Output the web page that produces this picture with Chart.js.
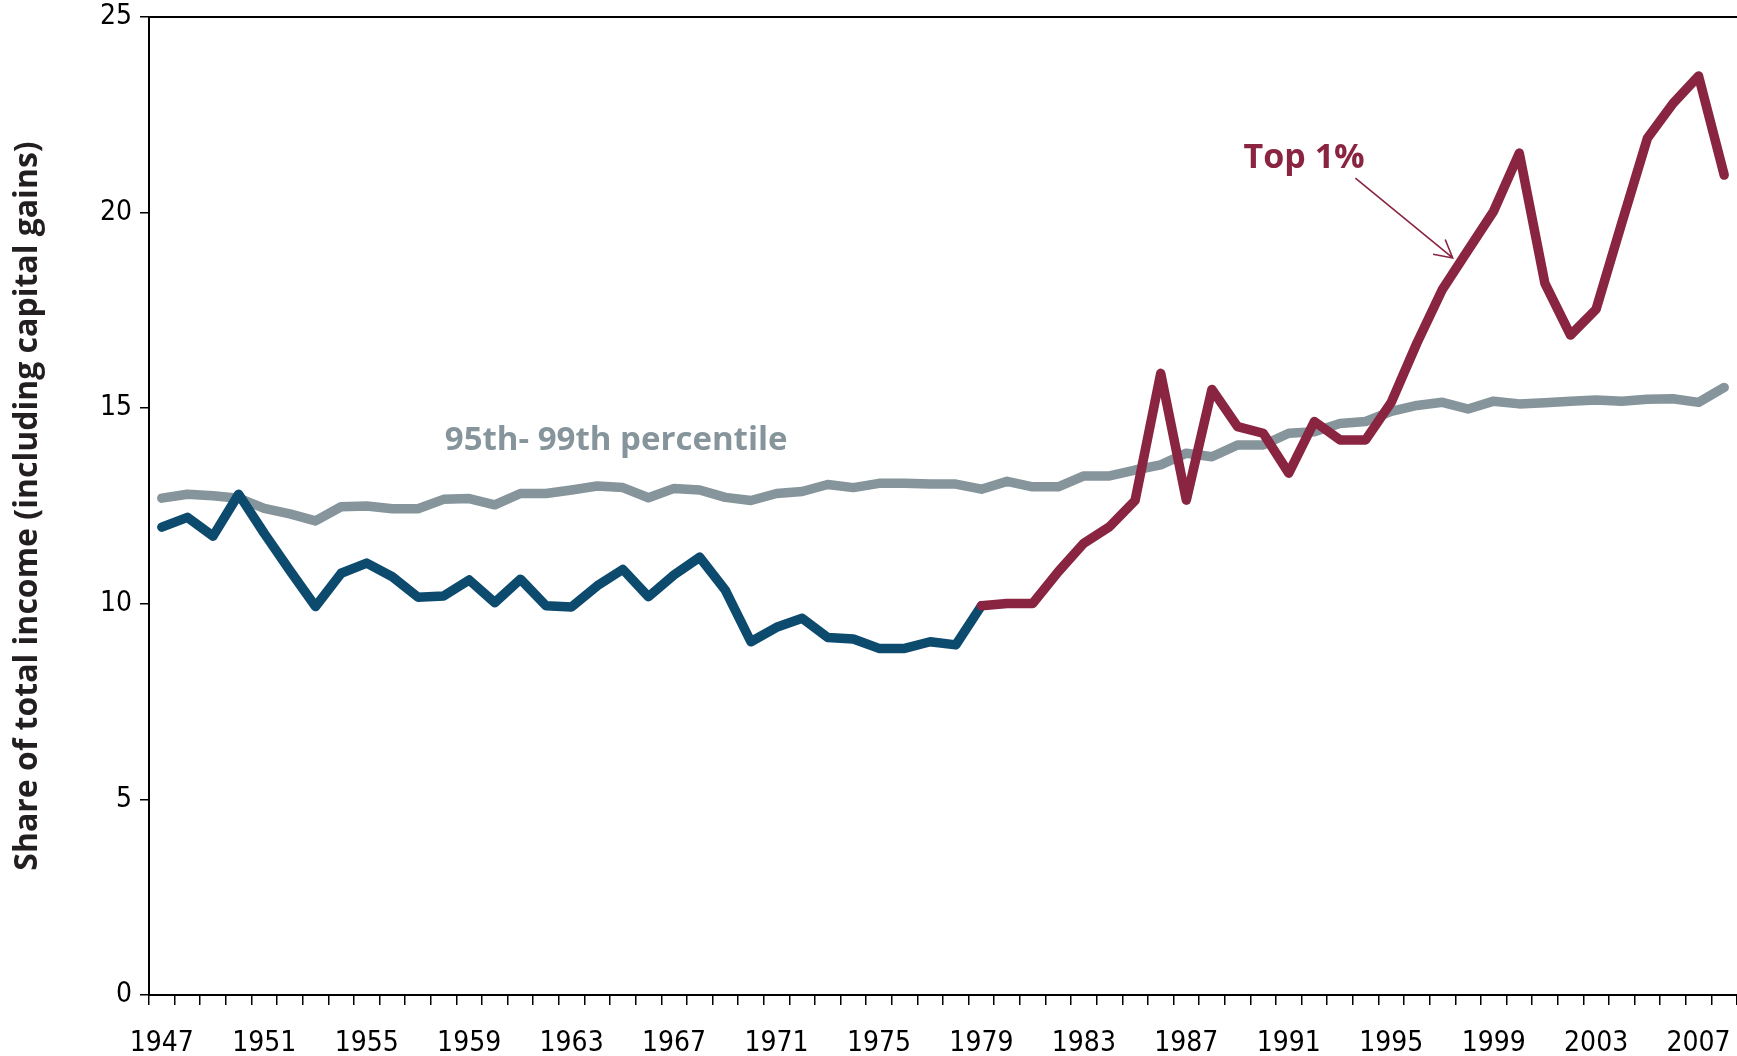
<!DOCTYPE html>
<html>
<head>
<meta charset="utf-8">
<title>Share of total income</title>
<script src="https://cdn.jsdelivr.net/npm/chart.js@4.4.0/dist/chart.umd.min.js"></script>
<style>
  body { margin: 0; background: #fff; }
  #wrap { width: 1737px; height: 1056px; }
</style>
</head>
<body>
<div id="wrap"><canvas id="incomeChart" width="1737" height="1056"></canvas></div>
<script>
const years = [
  '1947', '1948', '1949', '1950', '1951', '1952', '1953', '1954', '1955', '1956',
  '1957', '1958', '1959', '1960', '1961', '1962', '1963', '1964', '1965', '1966',
  '1967', '1968', '1969', '1970', '1971', '1972', '1973', '1974', '1975', '1976',
  '1977', '1978', '1979', '1980', '1981', '1982', '1983', '1984', '1985', '1986',
  '1987', '1988', '1989', '1990', '1991', '1992', '1993', '1994', '1995', '1996',
  '1997', '1998', '1999', '2000', '2001', '2002', '2003', '2004', '2005', '2006',
  '2007', '2008'
];

// 95th-99th percentile share
const share95to99 = [
  12.70, 12.80, 12.76, 12.70, 12.44, 12.30, 12.12, 12.48, 12.50, 12.43,
  12.43, 12.67, 12.69, 12.53, 12.82, 12.82, 12.91, 13.01, 12.97, 12.71,
  12.95, 12.91, 12.72, 12.64, 12.82, 12.87, 13.05, 12.97, 13.08, 13.08,
  13.06, 13.06, 12.93, 13.13, 12.99, 12.99, 13.27, 13.27, 13.42, 13.55,
  13.85, 13.76, 14.06, 14.06, 14.36, 14.40, 14.61, 14.66, 14.92, 15.07,
  15.15, 14.98, 15.18, 15.11, 15.14, 15.18, 15.21, 15.18, 15.23, 15.24,
  15.15, 15.53
];

// top 1% share, 1947-1979 (blue part)
const top1Early = [
  11.96, 12.21, 11.73, 12.80, 11.80, 10.85, 9.93, 10.78, 11.04, 10.69,
  10.17, 10.20, 10.61, 10.03, 10.63, 9.95, 9.92, 10.46, 10.88, 10.18,
  10.74, 11.19, 10.35, 9.03, 9.40, 9.63, 9.14, 9.10, 8.86, 8.86,
  9.03, 8.95, 9.95, null, null, null, null, null, null, null,
  null, null, null, null, null, null, null, null, null, null,
  null, null, null, null, null, null, null, null, null, null,
  null, null
];

// top 1% share, 1979-2008 (red part)
const top1Late = [
  null, null, null, null, null, null, null, null, null, null,
  null, null, null, null, null, null, null, null, null, null,
  null, null, null, null, null, null, null, null, null, null,
  null, null, 9.95, 10.01, 10.01, 10.82, 11.55, 11.97, 12.64, 15.89,
  12.65, 15.48, 14.53, 14.36, 13.34, 14.66, 14.19, 14.19, 15.15, 16.66,
  18.04, 19.04, 20.04, 21.52, 18.19, 16.87, 17.53, 19.73, 21.90, 22.79,
  23.49, 20.96
];

const yTicks = [0, 5, 10, 15, 20, 25];

const GRAY = '#86949b';
const BLUE = '#0c4a6e';
const MAROON = '#8a2541';
const TICK_FONT = { family: "'Liberation Sans Narrow', 'DejaVu Sans Condensed', 'Roboto Condensed', sans-serif", size: 28 };
const BOLD_FONT = "'Open Sans', 'Noto Sans', sans-serif";

// labels placed in data units (x = category index, y = share)
const notes = [
  { text: '95th- 99th percentile', x: 17.74, y: 14.18, color: GRAY, size: 33 },
  { text: 'Top 1%', x: 44.6, y: 21.4, color: MAROON, size: 34 }
];
const arrow = { from: [46.6, 20.88], to: [50.4, 18.84] };

const notesPlugin = {
  id: 'notes',
  afterDatasetsDraw(chart) {
    const ctx = chart.ctx;
    const xs = chart.scales.x;
    const ys = chart.scales.y;
    ctx.save();
    notes.forEach(n => {
      ctx.font = `bold ${n.size}px ${BOLD_FONT}`;
      ctx.fillStyle = n.color;
      ctx.textAlign = 'center';
      ctx.textBaseline = 'middle';
      ctx.fillText(n.text, xs.getPixelForValue(n.x), ys.getPixelForValue(n.y));
    });

    // arrow pointing at the top 1% line
    const x1 = xs.getPixelForValue(arrow.from[0]);
    const y1 = ys.getPixelForValue(arrow.from[1]);
    const x2 = xs.getPixelForValue(arrow.to[0]);
    const y2 = ys.getPixelForValue(arrow.to[1]);
    const ang = Math.atan2(y2 - y1, x2 - x1);
    const head = 20;
    ctx.strokeStyle = MAROON;
    ctx.lineWidth = 1.6;
    ctx.beginPath();
    ctx.moveTo(x1, y1);
    ctx.lineTo(x2, y2);
    ctx.moveTo(x2 - head * Math.cos(ang - 0.5), y2 - head * Math.sin(ang - 0.5));
    ctx.lineTo(x2, y2);
    ctx.lineTo(x2 - head * Math.cos(ang + 0.5), y2 - head * Math.sin(ang + 0.5));
    ctx.stroke();
    ctx.restore();
  }
};

const lineStyle = {
  borderWidth: 9.5,
  pointRadius: 0,
  tension: 0,
  borderCapStyle: 'round',
  borderJoinStyle: 'round',
  spanGaps: false
};

const ctx = document.getElementById('incomeChart').getContext('2d');
new Chart(ctx, {
  type: 'line',
  data: {
    labels: years,
    datasets: [
      { label: 'Top 1% (1979-2008)', data: top1Late, borderColor: MAROON, ...lineStyle },
      { label: 'Top 1% (1947-1979)', data: top1Early, borderColor: BLUE, ...lineStyle },
      { label: '95th-99th percentile', data: share95to99, borderColor: GRAY, ...lineStyle }
    ]
  },
  options: {
    responsive: false,
    animation: false,
    devicePixelRatio: 1,
    layout: { padding: 0 },
    plugins: {
      legend: { display: false },
      tooltip: { enabled: false }
    },
    scales: {
      x: {
        type: 'category',
        offset: true,
        grid: { offset: true, drawOnChartArea: false, drawTicks: true, tickLength: 10, color: '#000', lineWidth: 1.5 },
        border: { display: true, color: '#000', width: 2 },
        ticks: {
          autoSkip: false,
          maxRotation: 0,
          minRotation: 0,
          padding: 22,
          color: '#000',
          font: TICK_FONT,
          callback: (v, i) => (i % 4 === 0 ? years[i] : '')
        },
        afterFit: s => { s.height = 61; s.paddingLeft = 0; s.paddingRight = 0; }
      },
      xTop: {
        type: 'category',
        position: 'top',
        offset: true,
        grid: { display: false, drawTicks: false },
        ticks: { display: false },
        border: { display: true, color: '#000', width: 2 },
        afterFit: s => { s.height = 17; }
      },
      y: {
        min: yTicks[0],
        max: yTicks[yTicks.length - 1],
        afterBuildTicks: s => { s.ticks = yTicks.map(v => ({ value: v })); },
        ticks: { padding: 8, color: '#000', font: TICK_FONT },
        grid: { drawOnChartArea: false, drawTicks: true, tickLength: 9, color: '#000', lineWidth: 1.5 },
        border: { color: '#000', width: 2 },
        title: {
          display: true,
          text: 'Share of total income (including capital gains)',
          color: '#231f20',
          font: { family: BOLD_FONT, size: 32, weight: 'bold' },
          padding: { top: 9, bottom: 0 }
        },
        afterFit: s => { s.width = 149; s.paddingTop = 0; s.paddingBottom = 0; }
      }
    }
  },
  plugins: [notesPlugin]
});
</script>
</body>
</html>
